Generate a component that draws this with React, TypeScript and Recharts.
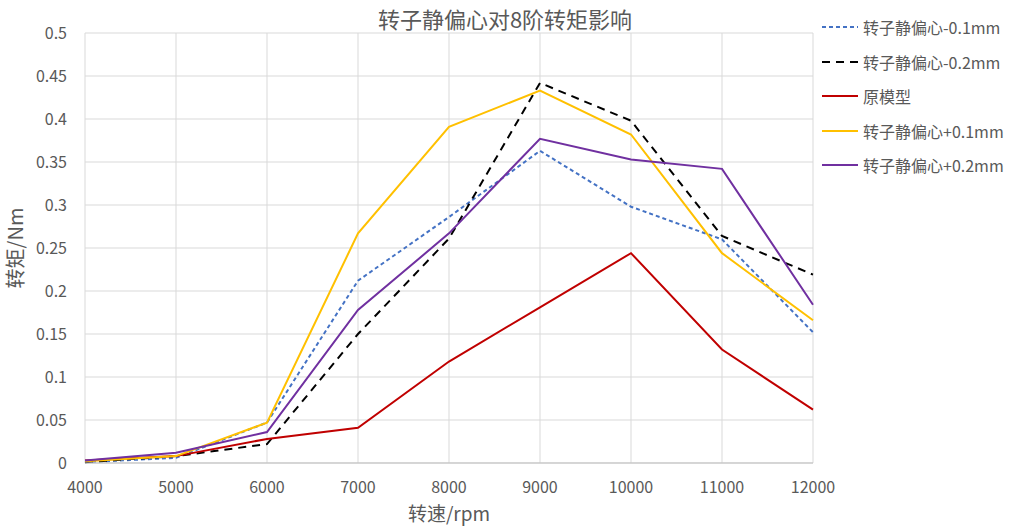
import { LineChart, Line, XAxis, YAxis, CartesianGrid } from 'recharts';

const speeds = [4000, 5000, 6000, 7000, 8000, 9000, 10000, 11000, 12000];
const minus01 = [0.001, 0.006, 0.047, 0.212, 0.286, 0.363, 0.298, 0.26, 0.152];
const minus02 = [0.001, 0.008, 0.022, 0.15, 0.261, 0.442, 0.398, 0.264, 0.219];
const original = [0.003, 0.008, 0.028, 0.041, 0.118, 0.181, 0.244, 0.132, 0.062];
const plus01 = [0.002, 0.008, 0.047, 0.267, 0.391, 0.433, 0.382, 0.244, 0.166];
const plus02 = [0.003, 0.012, 0.036, 0.178, 0.267, 0.377, 0.353, 0.342, 0.184];

const xTicks = [4000, 5000, 6000, 7000, 8000, 9000, 10000, 11000, 12000];
const yTicks = [0, 0.05, 0.1, 0.15, 0.2, 0.25, 0.3, 0.35, 0.4, 0.45, 0.5];

const series = [
  { key: 'm01', name: '转子静偏心-0.1mm', color: '#4472C4', dash: '4 3', values: minus01 },
  { key: 'm02', name: '转子静偏心-0.2mm', color: '#000000', dash: '8 6', values: minus02 },
  { key: 'orig', name: '原模型', color: '#C00000', dash: undefined, values: original },
  { key: 'p01', name: '转子静偏心+0.1mm', color: '#FFC000', dash: undefined, values: plus01 },
  { key: 'p02', name: '转子静偏心+0.2mm', color: '#7030A0', dash: undefined, values: plus02 },
];

const data = speeds.map((s, i) => {
  const row: Record<string, number> = { speed: s };
  series.forEach((sr) => (row[sr.key] = sr.values[i]));
  return row;
});

const FONT = '"Noto Sans CJK SC", "Microsoft YaHei", sans-serif';
const TEXT = '#595959';

function LegendBox() {
  return (
    <div style={{ position: 'absolute', left: 822, top: 10, width: 188, fontFamily: FONT, fontSize: 16, color: TEXT }}>
      {series.map((s) => (
        <div key={s.key} style={{ display: 'flex', alignItems: 'center', height: 34.5, whiteSpace: 'nowrap' }}>
          <svg width={36} height={4} style={{ marginRight: 5 }}>
            <line x1={0} y1={2} x2={36} y2={2} stroke={s.color} strokeWidth={2} strokeDasharray={s.dash} />
          </svg>
          <span>{s.name}</span>
        </div>
      ))}
    </div>
  );
}

export default function App() {
  return (
    <div style={{ position: 'absolute', left: 0, top: 0, width: 1010, height: 526, background: '#fff' }}>
      <div
        style={{
          position: 'absolute',
          left: 0,
          top: 2,
          width: 1010,
          textAlign: 'center',
          fontFamily: FONT,
          fontSize: 22,
          lineHeight: '32px',
          color: TEXT,
        }}
      >
        转子静偏心对8阶转矩影响
      </div>
      <LineChart width={1010} height={526} data={data} margin={{ top: 33, right: 197, bottom: 0, left: 0 }}>
        <CartesianGrid stroke="#D9D9D9" strokeWidth={1} />
        <XAxis
          dataKey="speed"
          type="number"
          domain={[4000, 12000]}
          ticks={xTicks}
          height={63}
          tickLine={false}
          tickMargin={13}
          stroke="#BFBFBF"
          tick={{ fill: TEXT, fontSize: 16, fontFamily: FONT }}
          label={{ value: '转速/rpm', position: 'insideBottom', offset: 5, fill: TEXT, fontSize: 19, fontFamily: FONT }}
        />
        <YAxis
          type="number"
          domain={[0, 0.5]}
          ticks={yTicks}
          width={85}
          axisLine={false}
          tickLine={false}
          tickMargin={12}
          tick={{ fill: TEXT, fontSize: 16, fontFamily: FONT }}
        />
        {series.map((s) => (
          <Line
            key={s.key}
            dataKey={s.key}
            name={s.name}
            stroke={s.color}
            strokeWidth={2}
            strokeDasharray={s.dash}
            dot={false}
            isAnimationActive={false}
            type="linear"
          />
        ))}
      </LineChart>
      <svg width={30} height={526} style={{ position: 'absolute', left: 0, top: 0, pointerEvents: 'none' }}>
        <text
          x={14}
          y={248}
          transform="rotate(-90 14 248)"
          textAnchor="middle"
          dominantBaseline="central"
          fill={TEXT}
          fontSize={20}
          fontFamily={FONT}
        >
          转矩/Nm
        </text>
      </svg>
      <LegendBox />
    </div>
  );
}
